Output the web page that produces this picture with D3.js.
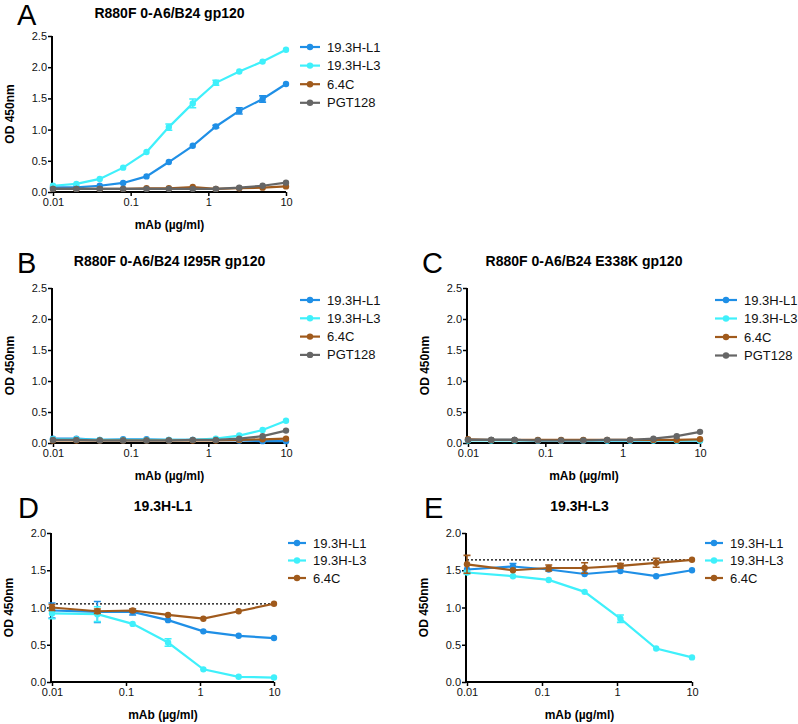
<!DOCTYPE html>
<html><head><meta charset="utf-8">
<script src="https://cdn.jsdelivr.net/npm/d3@7"></script>
<style>
body{margin:0;background:#fff;}
svg{font-family:"Liberation Sans",Arial,sans-serif;}
</style></head>
<body><svg id="c" width="798" height="724"></svg>
<script>
// ---------- data ----------
const seriesNames = ["19.3H-L1", "19.3H-L3", "6.4C", "PGT128"];
const seriesColors = ["#1f8fe6", "#3ff0fb", "#a05a1c", "#666666"];

const xTitration = [0.01, 0.02, 0.04, 0.08, 0.16, 0.31, 0.63, 1.25, 2.5, 5, 10];
const xCompete = [0.01, 0.041, 0.123, 0.37, 1.11, 3.33, 10];
const xTickVals = [0.01, 0.1, 1, 10];
const xTickLabels = ["0.01", "0.1", "1", "10"];

// Panel A
const aL1 = [0.075, 0.075, 0.10, 0.145, 0.25, 0.48, 0.74, 1.05, 1.30, 1.49, 1.73];
const aL3 = [0.10, 0.13, 0.21, 0.39, 0.64, 1.04, 1.42, 1.75, 1.93, 2.09, 2.28];
const a64C = [0.05, 0.05, 0.05, 0.05, 0.06, 0.06, 0.08, 0.05, 0.06, 0.07, 0.09];
const aPGT = [0.05, 0.05, 0.05, 0.05, 0.05, 0.05, 0.05, 0.05, 0.07, 0.10, 0.15];
const aL1Err = [0, 0, 0, 0, 0, 0, 0, 0.02, 0.05, 0.05, 0];
const aL3Err = [0, 0, 0, 0, 0, 0.05, 0.07, 0.04, 0, 0, 0];

// Panel B
const bL1 = [0.07, 0.07, 0.05, 0.06, 0.06, 0.05, 0.05, 0.05, 0.04, 0.03, 0.03];
const bL3 = [0.06, 0.06, 0.05, 0.05, 0.05, 0.05, 0.05, 0.07, 0.12, 0.21, 0.36];
const b64C = [0.04, 0.04, 0.04, 0.04, 0.04, 0.04, 0.04, 0.04, 0.05, 0.06, 0.07];
const bPGT = [0.05, 0.05, 0.04, 0.04, 0.04, 0.04, 0.05, 0.05, 0.07, 0.11, 0.20];

// Panel C
const cL1 = [0.05, 0.05, 0.05, 0.04, 0.04, 0.04, 0.04, 0.04, 0.04, 0.04, 0.04];
const cL3 = [0.04, 0.04, 0.04, 0.04, 0.04, 0.04, 0.04, 0.04, 0.04, 0.04, 0.04];
const c64C = [0.06, 0.05, 0.05, 0.05, 0.05, 0.05, 0.05, 0.05, 0.05, 0.05, 0.06];
const cPGT = [0.05, 0.05, 0.05, 0.04, 0.04, 0.04, 0.05, 0.05, 0.07, 0.11, 0.18];

// Panel D (19.3H-L1 competition)
const dL1 = [0.96, 0.94, 0.94, 0.83, 0.68, 0.62, 0.59];
const dL3 = [0.92, 0.91, 0.78, 0.53, 0.17, 0.07, 0.06];
const d64C = [1.00, 0.95, 0.96, 0.90, 0.85, 0.95, 1.05];
const dL1Err = [0.10, 0.14, 0.04, 0, 0, 0, 0];
const dL3Err = [0.07, 0.10, 0, 0.05, 0, 0, 0];
const d64CErr = [0.04, 0.03, 0.02, 0, 0, 0, 0];
const dRef = 1.05;

// Panel E (19.3H-L3 competition)
const eL1 = [1.51, 1.55, 1.51, 1.45, 1.49, 1.42, 1.50];
const eL3 = [1.47, 1.42, 1.37, 1.21, 0.85, 0.45, 0.33];
const e64C = [1.58, 1.50, 1.53, 1.53, 1.56, 1.60, 1.64];
const eL1Err = [0, 0.04, 0, 0, 0, 0, 0];
const eL3Err = [0.02, 0, 0, 0, 0.05, 0, 0];
const e64CErr = [0.12, 0, 0.04, 0.07, 0.03, 0.06, 0];
const eRef = 1.64;

const yTicks25 = [0, 0.5, 1, 1.5, 2, 2.5];
const yTicks20 = [0, 0.5, 1, 1.5, 2];

// ---------- layout ----------
const panels = [
  {letter:"A", title:"R880F 0-A6/B24 gp120", x0:53, x1:286, yT:36, yB:192, yMax:2.5, yTicks:yTicks25,
   xs:xTitration, series:[aL1,aL3,a64C,aPGT], errs:[aL1Err,aL3Err,null,null], ref:null,
   legX:300, legY:47, legDy:18.6, legLen:20, letterX:17, letterY:25},
  {letter:"B", title:"R880F 0-A6/B24 I295R gp120", x0:53, x1:286, yT:288, yB:443, yMax:2.5, yTicks:yTicks25,
   xs:xTitration, series:[bL1,bL3,b64C,bPGT], errs:[null,null,null,null], ref:null,
   legX:300, legY:300, legDy:18.3, legLen:20, letterX:17, letterY:273},
  {letter:"C", title:"R880F 0-A6/B24 E338K gp120", x0:468, x1:700, yT:288, yB:443, yMax:2.5, yTicks:yTicks25,
   xs:xTitration, series:[cL1,cL3,c64C,cPGT], errs:[null,null,null,null], ref:null,
   legX:715, legY:300, legDy:18.5, legLen:22, letterX:422, letterY:273},
  {letter:"D", title:"19.3H-L1", x0:52, x1:274, yT:533, yB:682, yMax:2.0, yTicks:yTicks20,
   xs:xCompete, series:[dL1,dL3,d64C], errs:[dL1Err,dL3Err,d64CErr], ref:dRef,
   legX:288, legY:543, legDy:17.5, legLen:18, letterX:18, letterY:518},
  {letter:"E", title:"19.3H-L3", x0:467, x1:692, yT:533, yB:682, yMax:2.0, yTicks:yTicks20,
   xs:xCompete, series:[eL1,eL3,e64C], errs:[eL1Err,eL3Err,e64CErr], ref:eRef,
   legX:705, legY:543, legDy:17.5, legLen:18, letterX:424, letterY:518}
];

const svg = d3.select("#c");

panels.forEach(p => {
  const g = svg.append("g");
  const x = d3.scaleLog().domain([0.01, 10]).range([p.x0, p.x1]);
  const y = d3.scaleLinear().domain([0, p.yMax]).range([p.yB, p.yT]);

  // letter
  g.append("text").attr("x", p.letterX).attr("y", p.letterY)
    .attr("font-size", 29).attr("fill", "#000").text(p.letter);
  // title
  g.append("text").attr("x", (p.x0 + p.x1) / 2).attr("y", p.letterY - 7)
    .attr("text-anchor", "middle").attr("font-size", 14).attr("font-weight", "bold").text(p.title);

  // axes
  const yAxis = d3.axisLeft(y).tickValues(p.yTicks).tickFormat(d3.format(".1f"))
    .tickSize(4).tickPadding(1).tickSizeOuter(0);
  const gy = g.append("g").attr("transform", `translate(${p.x0 - 1},0)`).call(yAxis);
  const xAxis = d3.axisBottom(x).tickValues(xTickVals).tickFormat((d, i) => xTickLabels[i])
    .tickSize(4).tickPadding(2).tickSizeOuter(0);
  const gx = g.append("g").attr("transform", `translate(0,${p.yB})`).call(xAxis);
  [gx, gy].forEach(a => {
    a.select(".domain").attr("stroke", "#000").attr("stroke-width", 2);
    a.selectAll(".tick line").attr("stroke", "#000").attr("stroke-width", 1.5);
    a.selectAll(".tick text").attr("font-size", 11).attr("fill", "#111")
      .attr("font-family", "Liberation Sans, Arial, sans-serif");
  });
  gy.select(".domain").attr("d", `M0,${p.yB + 1}V${p.yT}`);
  gx.select(".domain").attr("d", `M${p.x0 - 2},0H${p.x1}`);

  // axis titles
  g.append("text").attr("x", (p.x0 + p.x1) / 2).attr("y", p.yB + 37)
    .attr("text-anchor", "middle").attr("font-size", 12).attr("font-weight", "bold").text("mAb (µg/ml)");
  g.append("text").attr("transform", `translate(${p.x0 - 39},${(p.yT + p.yB) / 2}) rotate(-90)`)
    .attr("text-anchor", "middle").attr("font-size", 12).attr("font-weight", "bold").text("OD 450nm");

  // reference line
  if (p.ref !== null) {
    g.append("line").attr("x1", x(0.01)).attr("x2", x(10)).attr("y1", y(p.ref)).attr("y2", y(p.ref))
      .attr("stroke", "#000").attr("stroke-width", 1.3).attr("stroke-dasharray", "2,2");
  }

  const line = d3.line().x(d => x(d[0])).y(d => y(d[1]));
  p.series.forEach((vals, si) => {
    const col = seriesColors[si];
    const pts = vals.map((v, i) => [p.xs[i], v]);
    const err = p.errs[si];
    if (err) {
      pts.forEach((d, i) => {
        if (!err[i]) return;
        const cx = x(d[0]), yt = y(d[1] + err[i]), yb = y(d[1] - err[i]);
        g.append("path").attr("d", `M${cx},${yt}V${yb}M${cx - 3.5},${yt}H${cx + 3.5}M${cx - 3.5},${yb}H${cx + 3.5}`)
          .attr("stroke", col).attr("stroke-width", 1.6).attr("fill", "none");
      });
    }
    g.append("path").datum(pts).attr("d", line).attr("fill", "none")
      .attr("stroke", col).attr("stroke-width", 2.2);
    g.selectAll(null).data(pts).enter().append("circle")
      .attr("cx", d => x(d[0])).attr("cy", d => y(d[1])).attr("r", 3.2).attr("fill", col);
  });

  // legend
  p.series.forEach((vals, si) => {
    const ly = p.legY + si * p.legDy;
    const col = seriesColors[si];
    g.append("line").attr("x1", p.legX).attr("x2", p.legX + p.legLen).attr("y1", ly).attr("y2", ly)
      .attr("stroke", col).attr("stroke-width", 2.2);
    g.append("circle").attr("cx", p.legX + p.legLen / 2).attr("cy", ly).attr("r", 3.2).attr("fill", col);
    g.append("text").attr("x", p.legX + p.legLen + 7).attr("y", ly + 4.5)
      .attr("font-size", 13).attr("fill", "#111").text(seriesNames[si]);
  });
});
</script></body></html>
